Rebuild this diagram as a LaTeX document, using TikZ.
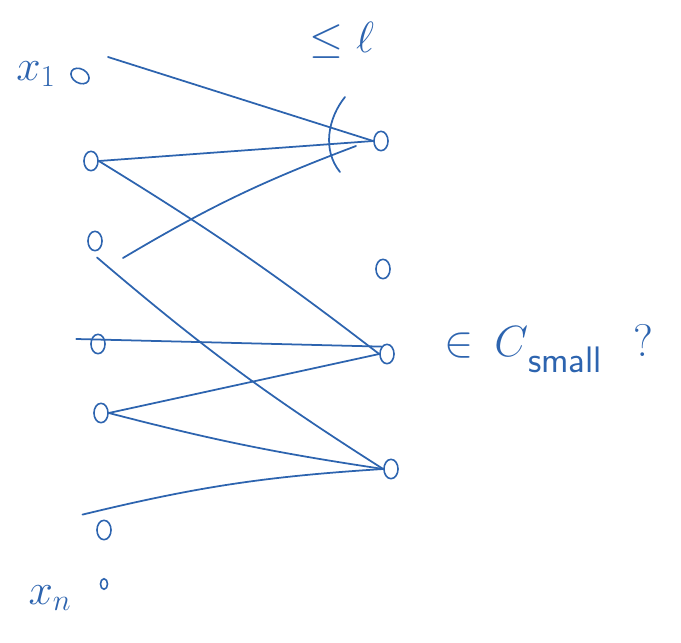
\documentclass[tikz,border=0pt]{standalone}
\usetikzlibrary{shapes.geometric}
\definecolor{pen}{RGB}{45,100,175}
\begin{document}
\begin{tikzpicture}[x=0.02cm,y=-0.02cm,
    pen/.style={draw=pen,line width=1pt,line cap=round},
    vtx/.style={ellipse,draw=pen,line width=0.9pt,minimum width=8pt,minimum height=11pt,inner sep=0pt},
    lbl/.style={text=pen,font=\fontsize{26}{30}\selectfont}]
  \useasboundingbox (0,0) rectangle (681,643);
  % inputs on the left
  \node[vtx,rotate=60] (v1) at (80,76) {};
  \node[vtx] (v2) at (91,161) {};
  \node[vtx] (v3) at (95,241) {};
  \node[vtx] (v4) at (98,344) {};
  \node[vtx] (v5) at (101,413) {};
  \node[vtx] (v6) at (104,530) {};
  \node[vtx,minimum width=4pt,minimum height=6pt] (vn) at (104,584) {};
  % gates on the right
  \node[vtx] (w1) at (381,141) {};
  \node[vtx] (w2) at (383,269) {};
  \node[vtx] (w3) at (387,354) {};
  \node[vtx] (w4) at (391,469) {};
  % labels
  \node[lbl] (x1) at (36,74) {$x_1$};
  \node[lbl] (xn) at (50,598) {$x_n$};
  \node[lbl] (fanin) at (342,40) {$\leq \ell$};
  \node[lbl,anchor=west] (csmall) at (438,349)
    {$\in$\hspace{12pt}{\fontsize{36}{40}\selectfont$C$}\raisebox{-9pt}{\fontsize{21}{24}\selectfont\sffamily small}\hspace{18pt}?};
  % free ends
  \coordinate (s1) at (108,57);
  \coordinate (s3) at (123,258);
  \coordinate (e3) at (356,146);
  % wires
  \draw[pen] (s1) -- (w1.west);
  \draw[pen] (w1.west) -- (v2.east);
  \draw[pen] (v2.east) to[bend left=3] (w3.west);
  \draw[pen] (s3) to[bend left=5] (e3);
  \draw[pen] (v3.south) ++(2,6) to[bend right=4] (w4.west);
  \draw[pen] (v4.west) ++(-14,-5) -- (w3.north west);
  \draw[pen] (w3.west) -- (v5.east);
  \draw[pen] (v5.east) to[bend right=3] (w4.west);
  \draw[pen] (v6.north west) ++(-16,-8) to[bend left=5] (w4.west);
  % fan-in bracket
  \draw[pen] (345,97) .. controls (328,118) and (322,150) .. (340,172);
\end{tikzpicture}
\end{document}
